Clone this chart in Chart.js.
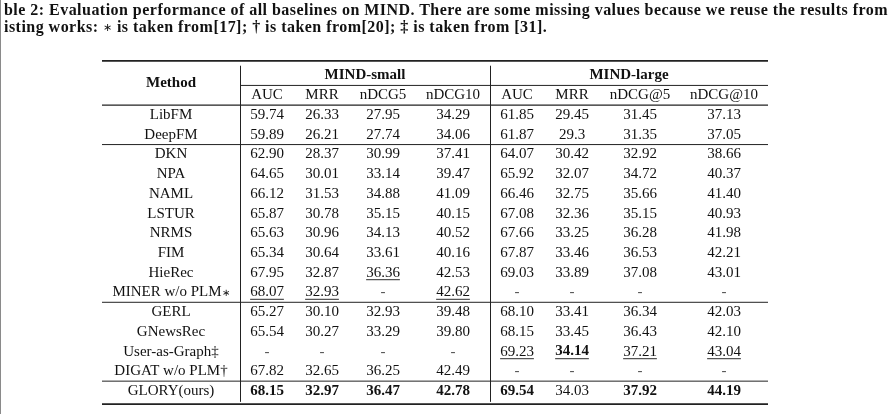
<!DOCTYPE html>
<html>
<head>
<meta charset="utf-8">
<script src="https://cdn.jsdelivr.net/npm/chart.js@4.4.1/dist/chart.umd.min.js"></script>
<style>
  html, body { margin: 0; padding: 0; background: #fff; }
  body { width: 895px; height: 414px; position: relative; overflow: hidden; }
  #edge { position: absolute; left: 0; top: 0; width: 1px; height: 414px; background: #8a8a8a; }
  #caption {
    position: absolute; left: 4px; top: 1px; width: 900px;
    font: bold 16px "Liberation Serif", serif; line-height: 17px;
    color: #111; white-space: nowrap;
  }
  #caption span.line { display: inline-block; }
  #caption .ast { font-weight: normal; font-size: 11px; vertical-align: 1px; }
  canvas { position: absolute; left: 0; top: 0; }
</style>
</head>
<body>
<div id="edge"></div>
<canvas id="tabela" width="895" height="414"></canvas>
<div id="caption"><span class="line" id="cap1">ble 2: Evaluation performance of all baselines on MIND. There are some missing values because we reuse the results from</span><br><span class="line" id="cap2">isting works: <span class="ast">∗</span> is taken from[17]; † is taken from[20]; ‡ is taken from [31].</span></div>
<script>
// Dados da tabela
const methods = ["LibFM", "DeepFM", "DKN", "NPA", "NAML", "LSTUR", "NRMS", "FIM", "HieRec",
  "MINER w/o PLM∗", "GERL", "GNewsRec", "User-as-Graph‡", "DIGAT w/o PLM†", "GLORY(ours)"];

const groups = ["MIND-small", "MIND-large"];
const metricLabels = ["AUC", "MRR", "nDCG5", "nDCG10", "AUC", "MRR", "nDCG@5", "nDCG@10"];

const smallAUC = ["59.74", "59.89", "62.90", "64.65", "66.12", "65.87", "65.63", "65.34", "67.95", "68.07", "65.27", "65.54", null, "67.82", "68.15"];
const smallMRR = ["26.33", "26.21", "28.37", "30.01", "31.53", "30.78", "30.96", "30.64", "32.87", "32.93", "30.10", "30.27", null, "32.65", "32.97"];
const smallNDCG5 = ["27.95", "27.74", "30.99", "33.14", "34.88", "35.15", "34.13", "33.61", "36.36", null, "32.93", "33.29", null, "36.25", "36.47"];
const smallNDCG10 = ["34.29", "34.06", "37.41", "39.47", "41.09", "40.15", "40.52", "40.16", "42.53", "42.62", "39.48", "39.80", null, "42.49", "42.78"];
const largeAUC = ["61.85", "61.87", "64.07", "65.92", "66.46", "67.08", "67.66", "67.87", "69.03", null, "68.10", "68.15", "69.23", null, "69.54"];
const largeMRR = ["29.45", "29.3", "30.42", "32.07", "32.75", "32.36", "33.25", "33.46", "33.89", null, "33.41", "33.45", "34.14", null, "34.03"];
const largeNDCG5 = ["31.45", "31.35", "32.92", "34.72", "35.66", "35.15", "36.28", "36.53", "37.08", null, "36.34", "36.43", "37.21", null, "37.92"];
const largeNDCG10 = ["37.13", "37.05", "38.66", "40.37", "41.40", "40.93", "41.98", "42.21", "43.01", null, "42.03", "42.10", "43.04", null, "44.19"];

// [coluna, linha] — melhores (negrito) e segundos (sublinhado)
const boldCells = [[1, 14], [2, 14], [3, 14], [4, 14], [5, 14], [7, 14], [8, 14], [6, 12]];
const underlineCells = [[3, 8], [1, 9], [2, 9], [4, 9], [5, 12], [6, 12], [7, 12], [8, 12]];

// Grupos de linhas separados por regras
const rowBreaks = [1.5, 9.5, 13.5];

// Layout das colunas (largura em px)
const colWidths = [138, 54, 56, 66, 74, 54, 56, 80, 88];
const FONT = '"Liberation Serif", serif';

function colCenters() {
  let acc = 0;
  return colWidths.map(w => { const c = acc + w / 2; acc += w; return c; });
}

function colEdge(n) {
  return colWidths.slice(0, n).reduce((a, b) => a + b, 0);
}

const centers = colCenters();
const valueColumns = [smallAUC, smallMRR, smallNDCG5, smallNDCG10, largeAUC, largeMRR, largeNDCG5, largeNDCG10];
const allColumns = [methods, ...valueColumns];

function isIn(list, c, r) {
  return list.some(([a, b]) => a === c && b === r);
}

// Ajusta o espaçamento da legenda para ocupar a largura da página
function ajustarLegenda() {
  const l1 = document.getElementById("cap1");
  const l2 = document.getElementById("cap2");
  const alvo = 884;
  const natural = l1.getBoundingClientRect().width;
  const chars = l1.textContent.length;
  const ls = (alvo - natural) / chars;
  l1.style.letterSpacing = ls + "px";
  l2.style.letterSpacing = ls + "px";
}

// Plugin que desenha o texto e as regras da tabela
const tablePlugin = {
  id: "tablePlugin",
  afterDatasetsDraw(chart) {
    const { ctx, chartArea } = chart;
    const x = chart.scales.x;
    const y = chart.scales.y;

    ctx.save();
    ctx.strokeStyle = "#222";

    function hRule(v, x0, x1, width) {
      ctx.lineWidth = width;
      ctx.beginPath();
      ctx.moveTo(x.getPixelForValue(x0), y.getPixelForValue(v));
      ctx.lineTo(x.getPixelForValue(x1), y.getPixelForValue(v));
      ctx.stroke();
    }

    const total = colEdge(colWidths.length);
    // top / bottom rules
    ctx.lineWidth = 1.8;
    ctx.beginPath();
    ctx.moveTo(chartArea.left, chartArea.top + 0.9);
    ctx.lineTo(chartArea.right, chartArea.top + 0.9);
    ctx.moveTo(chartArea.left, chartArea.bottom - 0.9);
    ctx.lineTo(chartArea.right, chartArea.bottom - 0.9);
    ctx.stroke();

    hRule(-1.5, colEdge(1), total, 1);
    hRule(-0.5, 0, total, 1.1);
    rowBreaks.forEach(v => hRule(v, 0, total, 1));

    // vertical separators
    ctx.lineWidth = 1;
    [colEdge(1), colEdge(5)].forEach(e => {
      const px = Math.round(x.getPixelForValue(e)) + 0.5;
      ctx.beginPath();
      ctx.moveTo(px, y.getPixelForValue(-2.5));
      ctx.lineTo(px, y.getPixelForValue(14.55));
      ctx.stroke();
    });

    ctx.fillStyle = "#111";
    ctx.textAlign = "center";
    ctx.textBaseline = "middle";

    // headers
    ctx.font = "bold 15px " + FONT;
    ctx.fillText("Method", x.getPixelForValue(centers[0]), y.getPixelForValue(-1.6));
    ctx.fillText(groups[0], x.getPixelForValue((colEdge(1) + colEdge(5)) / 2), y.getPixelForValue(-2));
    ctx.fillText(groups[1], x.getPixelForValue((colEdge(5) + total) / 2), y.getPixelForValue(-2));
    ctx.font = "15px " + FONT;
    metricLabels.forEach((m, i) => {
      ctx.fillText(m, x.getPixelForValue(centers[i + 1]), y.getPixelForValue(-1));
    });

    // cells from dataset elements
    chart.data.datasets.forEach((ds, c) => {
      const meta = chart.getDatasetMeta(c);
      meta.data.forEach((pt, r) => {
        const raw = ds.data[r].text;
        const text = raw === null ? "-" : raw;
        const bold = isIn(boldCells, c, r);
        ctx.font = (bold ? "bold " : "") + "15px " + FONT;
        ctx.fillStyle = raw === null ? "#555" : "#111";
        if (c === 0 && text.endsWith("∗")) {
          // asterisco menor, como no original
          const base = text.slice(0, -1);
          const wb = ctx.measureText(base).width;
          ctx.font = "10px " + FONT;
          const wa = ctx.measureText("∗").width;
          const x0 = pt.x - (wb + wa) / 2;
          ctx.textAlign = "left";
          ctx.fillText("∗", x0 + wb, pt.y + 1);
          ctx.font = "15px " + FONT;
          ctx.fillText(base, x0, pt.y);
          ctx.textAlign = "center";
        } else {
          ctx.fillText(text, pt.x, pt.y);
        }
        if (isIn(underlineCells, c, r)) {
          const w = ctx.measureText(text).width;
          ctx.strokeStyle = "#555";
          ctx.lineWidth = 1.2;
          ctx.beginPath();
          ctx.moveTo(pt.x - w / 2, pt.y + 7);
          ctx.lineTo(pt.x + w / 2, pt.y + 7);
          ctx.stroke();
        }
      });
    });
    ctx.restore();
  }
};

function renderizarTabela() {
  ajustarLegenda();
  const ctx = document.getElementById("tabela").getContext("2d");
  new Chart(ctx, {
    type: "scatter",
    data: {
      datasets: allColumns.map((col, c) => ({
        label: c === 0 ? "Method" : metricLabels[c - 1],
        data: col.map((v, r) => ({ x: centers[c], y: r, text: v })),
        pointRadius: 0,
        pointHoverRadius: 0
      }))
    },
    options: {
      responsive: false,
      animation: false,
      layout: { padding: { top: 60, left: 102, right: 127, bottom: 9 } },
      scales: {
        x: { type: "linear", display: false, min: 0, max: colEdge(colWidths.length) },
        y: { type: "linear", display: false, reverse: true, min: -2.79, max: 14.71 }
      },
      plugins: {
        legend: { display: false },
        tooltip: { enabled: false }
      }
    },
    plugins: [tablePlugin]
  });
}

document.addEventListener("DOMContentLoaded", renderizarTabela);
</script>
</body>
</html>
